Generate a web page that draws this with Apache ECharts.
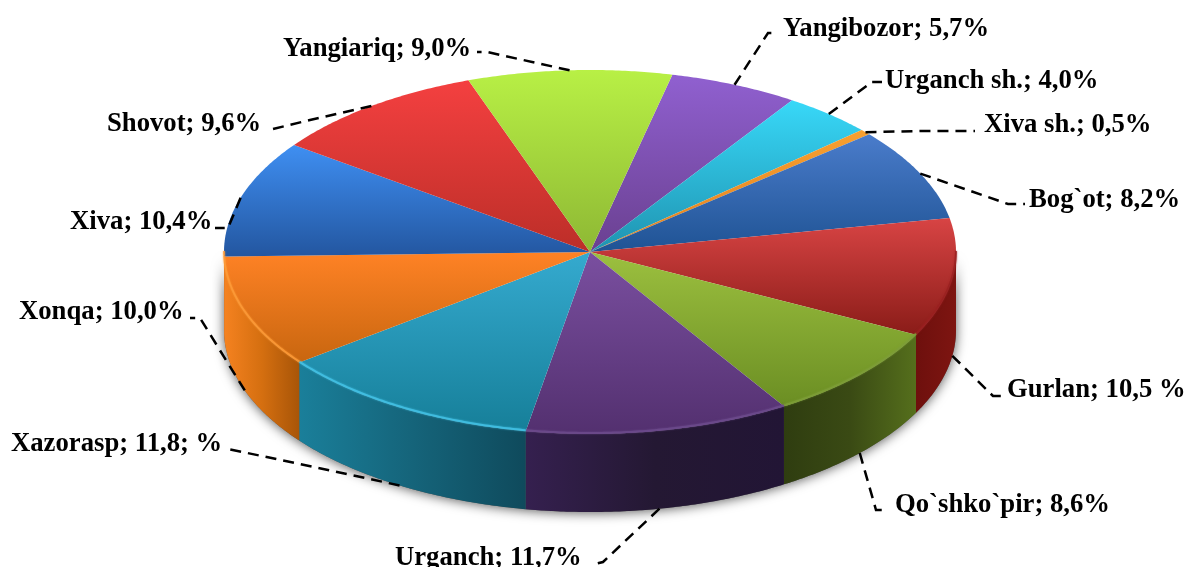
<!DOCTYPE html>
<html>
<head>
<meta charset="utf-8">
<style>html,body{margin:0;padding:0;background:#fff}#c{width:1184px;height:567px}</style>
<script src="https://cdn.jsdelivr.net/npm/echarts@6/dist/echarts.min.js"></script>
</head>
<body>
<div id="c"></div>
<script>
const values = [5.7, 4.0, 0.5, 8.2, 10.5, 8.6, 11.7, 11.8, 10.0, 10.4, 9.6, 9.0];
const labels = ['Yangibozor; 5,7%', 'Urganch sh.; 4,0%', 'Xiva sh.; 0,5%', 'Bog`ot; 8,2%', 'Gurlan; 10,5 %',
  'Qo`shko`pir; 8,6%', 'Urganch; 11,7%', 'Xazorasp; 11,8; %', 'Xonqa; 10,0%', 'Xiva; 10,4%', 'Shovot; 9,6%', 'Yangiariq; 9,0%'];
const topColors = [['#9060D0','#6A4090'],['#38D8F8','#1F93B0'],['#F8A030','#E08020'],['#4A7CCB','#1F5394'],
  ['#D84444','#8A1C18'],['#9CC03F','#6B8E23'],['#7A4FA0','#53306F'],['#35AACF','#167F99'],
  ['#FF8225','#C8660F'],['#3F8FF2','#2356A0'],['#F44040','#BC2E28'],['#B8F045','#8EB834']];
const wallColors = [null,null,null,null,['#6E100D','#7E1511'],['#2F3D10','#3A4A14','#556F1C'],['#35204F','#241833','#221535'],
  ['#1A7F9A','#15647A','#0F4A5C'],['#F58220','#D56F10','#A85508'],['#F58220','#F58220'],null,null];
const rimColors = [null,null,null,null,'#9A2020','#7E9E38','#6E4C8E','#45C4E8','#FF9C38','#FF9C38',null,null];
// [label x, label y, elbow x, elbow y, end x, end y]
const leaderLayout = [
  [783,29, 768,33, 778,33],[885,81, 872,82, 882,82],[984,125, 920,131, 975,131],[1029,200, 1008,204, 1025,204],
  [1007,390, 993,396, 1003,396],[895,505, 876,510, 887,510],[395,558, 603,562, 595,564],[11,444, 300,464, 228,449],
  [19,312, 200,318, 190,318],[70,222, 228,228, 215,228],[107,124, 310,120, 273,129],[283,49, 487,52, 477,52]];
const startAngle = 13, cx = 590, cy = 252, rx = 366, ry = 182, depth = 78;
const total = values.reduce((a, b) => a + b, 0);
const ranges = []; let acc = startAngle;
values.forEach(v => { const s = acc; acc += v / total * 360; ranges.push([s, acc]); });
const pt = (a, dy) => { const r = a * Math.PI / 180; return [cx + rx * Math.sin(r), cy - ry * Math.cos(r) + (dy || 0)]; };
const arc = (a, b, dy) => { const out = [], n = Math.max(2, Math.ceil(Math.abs(b - a) * 2)); for (let i = 0; i <= n; i++) out.push(pt(a + (b - a) * i / n, dy)); return out; };
const lin = (x2, y2, cols) => ({ type:'linear', x:0, y:0, x2, y2, colorStops: cols.map((c,i)=>({offset:i/(cols.length-1), color:c})) });

function wallRange(i) { const s = Math.max(ranges[i][0], 90), e = Math.min(ranges[i][1], 270); return e > s ? [s, e] : null; }

const option = {
  animation: false,
  series: [
    { type:'custom', coordinateSystem:'none', silent:true, z:1, data:[0],
      renderItem: () => ({ type:'polygon', shape:{points: arc(90,270,depth).concat(arc(270,90,0))},
        style:{fill:'#555', shadowColor:'rgba(0,0,0,0.65)', shadowBlur:12, shadowOffsetY:1, shadowOffsetX:0} }) },
    { type:'custom', coordinateSystem:'none', silent:true, z:2, data:values,
      renderItem: (p) => { const i = p.dataIndex, w = wallRange(i); if (!w) return {type:'group',children:[]};
        return { type:'polygon', shape:{points: arc(w[0],w[1],0).concat(arc(w[1],w[0],depth))},
          style:{fill: lin(1,0,wallColors[i]) } }; } },
    { type:'custom', coordinateSystem:'none', silent:true, z:3, data:values,
      renderItem: (p) => { const i = p.dataIndex, r = ranges[i];
        return { type:'polygon', shape:{points:[[cx,cy]].concat(arc(r[0],r[1],0))}, style:{fill: lin(0,1,topColors[i])} }; } },
    { type:'custom', coordinateSystem:'none', silent:true, z:4, data:values,
      renderItem: (p) => { const i = p.dataIndex, w = wallRange(i); if (!w) return {type:'group',children:[]};
        return { type:'polyline', shape:{points: arc(w[0],w[1],-1)}, style:{fill:null, stroke:rimColors[i], lineWidth:2, opacity:0.75, shadowColor:rimColors[i], shadowBlur:2} }; } },
    { type:'custom', coordinateSystem:'none', silent:true, z:5, data:values,
      renderItem: (p) => { const i = p.dataIndex, L = leaderLayout[i], m = (ranges[i][0]+ranges[i][1])/2;
        const visibleBelow = (m % 360) > 90 && (m % 360) < 270;
        const a = pt(m, visibleBelow ? depth : 0);
        return { type:'group', children:[
          { type:'polyline', shape:{points:[a,[L[2],L[3]],[L[4],L[5]]]},
            style:{fill:null, stroke:'#000', lineWidth:2.5, lineDash:[11,7]} },
          { type:'text', style:{ text:labels[i], x:L[0], y:L[1], fill:'#000', fontFamily:'"Liberation Serif"',
            fontWeight:'bold', fontSize:26.7, textAlign:'left', textVerticalAlign:'middle' } }
        ]}; } }
  ]
};
echarts.init(document.getElementById('c'), null, {renderer:'canvas'}).setOption(option);
</script>
</body>
</html>
